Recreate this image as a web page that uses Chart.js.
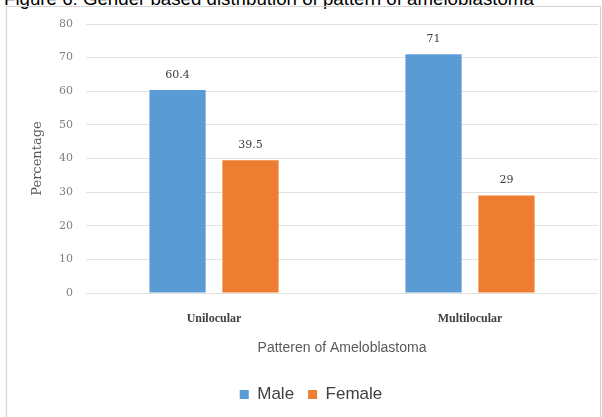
<!DOCTYPE html>
<html>
<head>
<meta charset="utf-8">
<script src="https://cdn.jsdelivr.net/npm/chart.js@4.4.1/dist/chart.umd.min.js"></script>
<style>
  html, body { margin: 0; padding: 0; background: #fff; overflow: hidden; }
  body { width: 602px; height: 417px; position: relative; }
  #caption {
    position: absolute; left: 4px; top: -10px; white-space: nowrap;
    font: 18.7px "Liberation Sans", Arial, sans-serif; line-height: 18px; color: #000;
  }
  #frame {
    position: absolute; left: 6px; top: 6px; width: 593px; height: 430px;
    border: 1px solid #d4d4d4; box-shadow: 0 1px 2px rgba(0,0,0,0.08);
  }
  #wrap { position: absolute; left: 0; top: 0; width: 602px; height: 417px; }
</style>
</head>
<body>
<div id="caption">Figure 6: Gender based distribution of pattern of ameloblastoma</div>
<div id="frame"></div>
<div id="wrap"><canvas id="chart" width="602" height="417"></canvas></div>
<script>
// Percentages by pattern and gender
const categories = ["Unilocular", "Multilocular"];
const maleValues = [60.4, 71];
const femaleValues = [39.5, 29];
const yTicks = [0, 10, 20, 30, 40, 50, 60, 70, 80];

// Writes each bar's value just above it
const valueLabels = {
  id: "valueLabels",
  afterDatasetsDraw(chart) {
    const ctx = chart.ctx;
    ctx.save();
    ctx.font = '11px "DejaVu Serif", serif';
    ctx.fillStyle = "#404040";
    ctx.textAlign = "center";
    ctx.textBaseline = "middle";
    chart.data.datasets.forEach((ds, i) => {
      chart.getDatasetMeta(i).data.forEach((bar, j) => {
        ctx.fillText(String(ds.data[j]), bar.x, bar.y - 15);
      });
    });
    ctx.restore();
  }
};

new Chart(document.getElementById("chart"), {
  type: "bar",
  data: {
    labels: categories,
    datasets: [
      { label: "Male", data: maleValues, backgroundColor: "#5b9bd5",
        categoryPercentage: 0.57, barPercentage: 0.77 },
      { label: "Female", data: femaleValues, backgroundColor: "#ed7d31",
        categoryPercentage: 0.57, barPercentage: 0.77 }
    ]
  },
  options: {
    responsive: false,
    animation: false,
    layout: { padding: { left: 24, right: 4, top: 24, bottom: 4 } },
    plugins: {
      tooltip: { enabled: false },
      legend: {
        position: "bottom",
        labels: {
          boxWidth: 9, boxHeight: 9, padding: 14,
          color: "#404040",
          font: { family: '"Liberation Sans", Arial, sans-serif', size: 17 }
        }
      }
    },
    scales: {
      x: {
        grid: { display: false, drawTicks: false },
        border: { display: false },
        ticks: {
          padding: 19, color: "#404040",
          font: { family: '"Liberation Serif", serif', size: 12, weight: "bold" }
        },
        title: {
          display: true, text: "Patteren of Ameloblastoma", color: "#595959",
          padding: { top: 0, bottom: 15 },
          font: { family: '"Liberation Sans", Arial, sans-serif', size: 14 }
        },
        afterFit(scale) { scale.height = 79; }
      },
      y: {
        min: 0, max: 80,
        afterBuildTicks(scale) { scale.ticks = yTicks.map(v => ({ value: v })); },
        grid: { color: "#e2e2e2", drawTicks: false },
        border: { display: false },
        ticks: {
          padding: 13, color: "#7f7f7f",
          font: { family: '"DejaVu Serif", serif', size: 11 }
        },
        title: {
          display: true, text: "Percentage", color: "#595959",
          padding: { top: 6, bottom: 0 },
          font: { family: '"DejaVu Serif", serif', size: 13 }
        },
        afterFit(scale) { scale.width = 62; }
      }
    }
  },
  plugins: [valueLabels]
});
</script>
</body>
</html>
